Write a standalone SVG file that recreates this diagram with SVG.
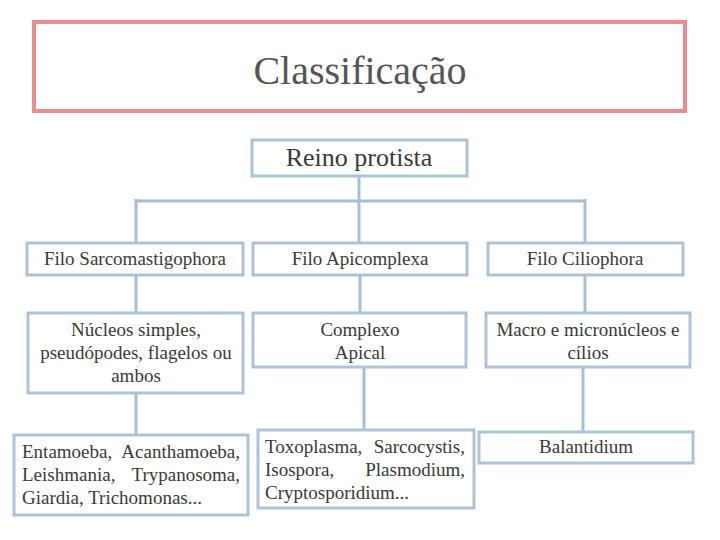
<svg xmlns="http://www.w3.org/2000/svg" width="720" height="540" viewBox="0 0 720 540">
<style>
.box{fill:#ffffff;stroke:#aec3d8;stroke-width:3}
text{font-family:'Liberation Serif','DejaVu Serif',serif;fill:#3a3a3a;font-size:19px}
.c{text-anchor:middle}
.con{stroke:#a7bfd6;stroke-width:3;fill:none}
</style>
<rect width="720" height="540" fill="#ffffff"/>
<g id="titulo">
<rect x="34" y="22" width="651" height="89" fill="#ffffff" stroke="#ec8c90" stroke-width="4"/>
<text class="c" x="360" y="84" font-size="40" style="font-size:40px;fill:#555">Classificação</text>
</g>
<g id="connectors">
<path class="con" d="M359 176 V201 M136 201 H585 M136 199 V243 M359 201 V243 M585 199 V243"/>
<path class="con" d="M136 275 V313 M360 275 V313 M585 275 V313"/>
<path class="con" d="M136 393 V435 M364 367 V430 M583 367 V432"/>
</g>
<g id="reino">
<rect class="box" x="252" y="140" width="215" height="36"/>
<text class="c" x="359" y="166" style="font-size:26px">Reino protista</text>
</g>
<g id="filo1">
<rect class="box" x="27" y="243" width="216" height="32"/>
<text class="c" x="135" y="265">Filo Sarcomastigophora</text>
</g>
<g id="filo2">
<rect class="box" x="253" y="243" width="214" height="32"/>
<text class="c" x="360" y="265">Filo Apicomplexa</text>
</g>
<g id="filo3">
<rect class="box" x="488" y="243" width="195" height="32"/>
<text class="c" x="585" y="265">Filo Ciliophora</text>
</g>
<g id="caract1">
<rect class="box" x="28" y="313" width="215" height="80"/>
<text class="c" x="136" y="336">Núcleos simples,</text>
<text class="c" x="136" y="359">pseudópodes, flagelos ou</text>
<text class="c" x="136" y="382">ambos</text>
</g>
<g id="caract2">
<rect class="box" x="253" y="313" width="213" height="54"/>
<text class="c" x="360" y="336">Complexo</text>
<text class="c" x="360" y="359">Apical</text>
</g>
<g id="caract3">
<rect class="box" x="486" y="313" width="204" height="54"/>
<text class="c" x="588" y="336">Macro e micronúcleos e</text>
<text class="c" x="588" y="359">cílios</text>
</g>
<g id="exemplos1">
<rect class="box" x="14" y="435" width="234" height="80"/>
<text x="22" y="458">Entamoeba,</text>
<text x="240" y="458" text-anchor="end">Acanthamoeba,</text>
<text x="22" y="481">Leishmania,</text>
<text x="240" y="481" text-anchor="end">Trypanosoma,</text>
<text x="22" y="504">Giardia, Trichomonas...</text>
</g>
<g id="exemplos2">
<rect class="box" x="258" y="430" width="216" height="78"/>
<text x="265" y="453">Toxoplasma,</text>
<text x="465" y="453" text-anchor="end">Sarcocystis,</text>
<text x="265" y="476">Isospora,</text>
<text x="465" y="476" text-anchor="end">Plasmodium,</text>
<text x="265" y="499">Cryptosporidium...</text>
</g>
<g id="exemplos3">
<rect class="box" x="479" y="432" width="214" height="31"/>
<text class="c" x="586" y="453">Balantidium</text>
</g>
</svg>
